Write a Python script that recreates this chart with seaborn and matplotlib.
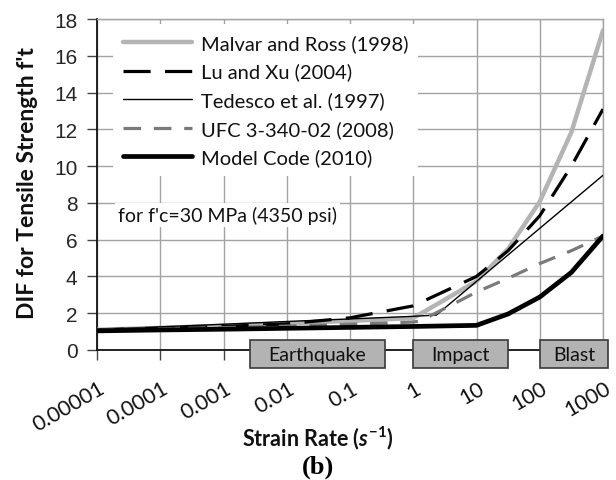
import numpy as np
import pandas as pd
import matplotlib
matplotlib.use("Agg")
import matplotlib.pyplot as plt
import matplotlib.transforms as mtransforms
import seaborn as sns
from matplotlib.patches import Rectangle

# ---------------- data ----------------
tick_values = [1e-5, 1e-4, 1e-3, 1e-2, 1e-1, 1, 10, 100, 1000]
tick_labels = ["0.00001", "0.0001", "0.001", "0.01", "0.1", "1", "10", "100", "1000"]
y_ticks = [0, 2, 4, 6, 8, 10, 12, 14, 16, 18]

malvar_x = [1e-5, 1e-4, 1e-3, 1e-2, 0.1, 1, 10, 31.6, 100, 316, 1000]
malvar_y = [1.10, 1.20, 1.32, 1.45, 1.58, 1.74, 3.74, 5.50, 8.07, 11.84, 17.38]

luxu_x = [1e-5, 1e-4, 1e-3, 1e-2, 0.1, 1, 10, 31.6, 100, 316, 1000]
luxu_y = [1.10, 1.18, 1.28, 1.42, 1.75, 2.40, 4.00, 5.40, 7.30, 10.00, 13.10]

tedesco_x = [1e-5, 1e-4, 1e-3, 1e-2, 0.1, 1, 2.32, 1000]
tedesco_y = [1.12, 1.26, 1.40, 1.55, 1.69, 1.83, 1.90, 9.50]

ufc_x = [1e-5, 1e-4, 1e-3, 1e-2, 0.1, 1, 1.3, 10, 31.6, 100, 316, 1000]
ufc_y = [1.08, 1.15, 1.22, 1.30, 1.40, 1.52, 1.58, 3.15, 3.90, 4.70, 5.40, 6.20]

mc_x = [1e-5, 1e-4, 1e-3, 1e-2, 0.1, 1, 10, 31.6, 100, 316, 1000]
mc_y = [1.04, 1.09, 1.13, 1.18, 1.23, 1.28, 1.34, 1.96, 2.88, 4.22, 6.20]

series_names = ["Malvar and Ross (1998)", "Lu and Xu (2004)", "Tedesco et al. (1997)",
                "UFC 3-340-02 (2008)", "Model Code (2010)"]

regimes = ["Earthquake", "Impact", "Blast"]
regime_start = [0.00262, 1.0, 100.0]
regime_end = [0.357, 31.5, 1200.0]

# ---------------- style ----------------
sns.set_theme(style="white")
plt.rcParams["font.family"] = ["Lato", "DejaVu Sans"]
plt.rcParams["mathtext.fontset"] = "custom"
plt.rcParams["mathtext.rm"] = "Lato:bold"
plt.rcParams["mathtext.it"] = "Lato:bold:italic"
plt.rcParams["mathtext.bf"] = "Lato:bold"

fig = plt.figure(figsize=(6.16, 4.81), dpi=100)
ax = fig.add_axes([97 / 616, 1 - 351 / 481, 506 / 616, 331 / 481])

styles = [
    dict(x=malvar_x, y=malvar_y, color="#b4b4b4", lw=3.2, ls="-"),
    dict(x=luxu_x, y=luxu_y, color="black", lw=2.3, ls=(0, (8.5, 4.5))),
    dict(x=tedesco_x, y=tedesco_y, color="black", lw=1.0, ls="-"),
    dict(x=ufc_x, y=ufc_y, color="#7a7a7a", lw=2.3, ls=(0, (5.5, 4))),
    dict(x=mc_x, y=mc_y, color="black", lw=3.4, ls="-"),
]
for name, st in zip(series_names, styles):
    df = pd.DataFrame({"x": st["x"], "y": st["y"]})
    sns.lineplot(data=df, x="x", y="y", ax=ax, color=st["color"], lw=st["lw"],
                 linestyle=st["ls"], label=name, zorder=3)

ax.set_xscale("log")
ax.set_xlim(1e-5, 1000)
ax.set_ylim(0, 18)
ax.set_xlabel("")
ax.set_ylabel("")

ax.grid(True, which="major", color="#a3a3a3", lw=1.0)
ax.minorticks_off()
ax.set_yticks(y_ticks)
ax.set_yticklabels([str(v) for v in y_ticks], family="Liberation Sans", fontsize=15)
ax.set_xticks(tick_values)
ax.set_xticklabels(tick_labels, rotation=30, ha="right", rotation_mode="anchor",
                   fontsize=15.5, color="#111111")
ax.tick_params(axis="y", direction="out", length=7, width=1, color="#444444", pad=7,
               left=True)
ax.tick_params(axis="x", direction="out", length=7, width=1, color="#444444", pad=13,
               bottom=True)
shift = mtransforms.ScaledTranslation(1 / 100, 0, fig.dpi_scale_trans)
for lab in ax.get_xticklabels():
    lab.set_transform(lab.get_transform() + shift)

for side in ["top", "right"]:
    ax.spines[side].set_color("#a3a3a3")
    ax.spines[side].set_linewidth(1.0)
for side in ["left", "bottom"]:
    ax.spines[side].set_color("#111111")
    ax.spines[side].set_linewidth(1.3)

# regime boxes
for name, x0, x1 in zip(regimes, regime_start, regime_end):
    r = Rectangle((x0, -0.98), x1 - x0, 1.52, transform=ax.transData,
                  facecolor="#b3b3b3", edgecolor="#3a3a3a", lw=1.2,
                  clip_on=False, zorder=6)
    ax.add_patch(r)
    xc = np.sqrt(x0 * x1)
    ax.text(xc, -0.22, name, ha="center", va="center", fontsize=14,
            color="#111111", zorder=7, clip_on=False)

# legend
leg = ax.legend(loc="upper left", bbox_to_anchor=((113 - 97) / 506, (351 - 25) / 331),
                borderaxespad=0, frameon=True, facecolor="white", edgecolor="none",
                framealpha=1, fontsize=14.5, handlelength=3.4, handletextpad=0.45,
                labelspacing=0.53, borderpad=0.5)
leg.set_zorder(5)
for t in leg.get_texts():
    t.set_color("#111111")

ax.text((118 - 97) / 506, (351 - 216) / 331, "for f'c=30 MPa (4350 psi)",
        transform=ax.transAxes, ha="left", va="center", fontsize=14,
        color="#111111", zorder=5,
        bbox=dict(facecolor="white", edgecolor="none", pad=2))

fig.text(28 / 616, 1 - 183 / 481, "DIF for Tensile Strength f't", rotation=90,
         ha="center", va="center", fontsize=16.5, fontweight="bold", color="#111111")
fig.text(318 / 616, 1 - 438 / 481, r"Strain Rate ($\mathit{s}^{\mathrm{-1}}$)",
         ha="center", va="center", fontsize=15.5, fontweight="bold", color="#111111")
fig.text(318 / 616, 1 - 467 / 481, "(b)", ha="center", va="center", fontsize=19,
         fontweight="bold", family="Liberation Serif", color="black")

fig.savefig("out.png", dpi=100)
